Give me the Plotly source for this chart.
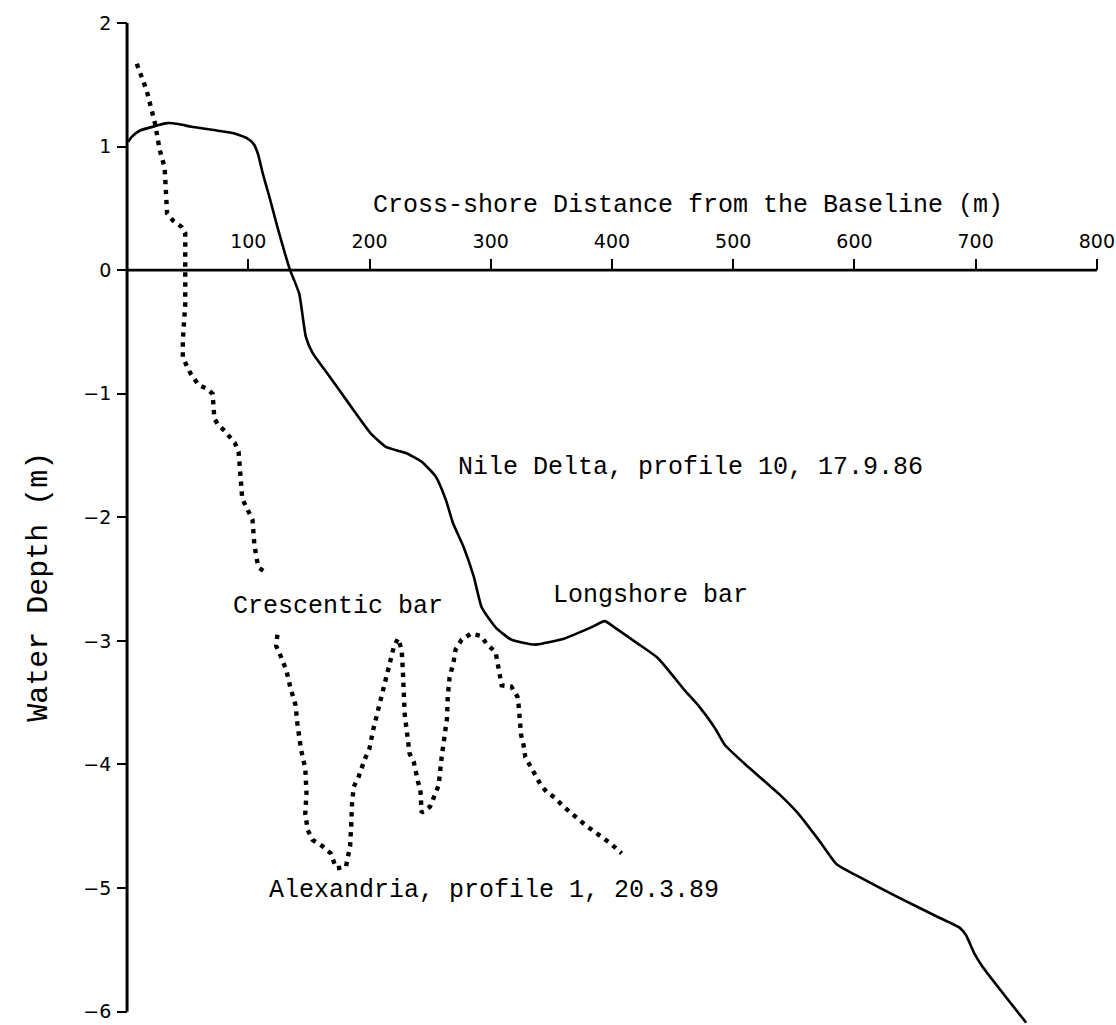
import plotly.graph_objects as go

# Nile Delta, profile 10 (17.9.86) - cross-shore distance (m) and elevation (m)
nile_x = [1, 4, 10.7, 24.6, 33, 43.5, 53, 74, 87, 98.5, 104.5, 108, 112, 117.5, 124, 131,
          134.5, 142, 147.5, 153, 167, 183, 201, 213.5, 230, 243, 254.6, 263, 269, 277.6,
          286, 292.6, 304, 317, 336.7, 361, 383, 394, 402, 421, 438, 460, 471, 484.6, 493,
          509, 539, 553, 572, 585.6, 602, 635, 668, 686.7, 692, 699, 706, 741.7]
nile_y = [1.04, 1.08, 1.13, 1.17, 1.19, 1.18, 1.16, 1.13, 1.11, 1.07, 1.02, 0.94, 0.78, 0.59,
          0.35, 0.11, 0.0, -0.19, -0.54, -0.67, -0.86, -1.08, -1.32, -1.43, -1.48, -1.55,
          -1.67, -1.86, -2.05, -2.24, -2.48, -2.73, -2.89, -2.99, -3.03, -2.98, -2.89, -2.84,
          -2.89, -3.02, -3.14, -3.40, -3.52, -3.70, -3.84, -3.99, -4.25, -4.39, -4.63, -4.81,
          -4.90, -5.07, -5.23, -5.32, -5.38, -5.53, -5.64, -6.09]

# Alexandria, profile 1 (20.3.89) - beach face segment
alex_upper_x = [8, 16, 23, 27, 31, 33, 33, 38, 45, 48, 48, 48, 46, 46, 49, 52, 59, 66, 70.6,
                71.5, 72, 75, 80.5, 89, 92, 93.6, 95, 103.5, 105, 107.6, 109, 115]
alex_upper_y = [1.67, 1.46, 1.19, 0.97, 0.83, 0.57, 0.46, 0.40, 0.35, 0.30, 0.0, -0.27, -0.57,
                -0.70, -0.77, -0.83, -0.93, -0.96, -1.0, -1.13, -1.2, -1.25, -1.30, -1.40,
                -1.47, -1.67, -1.85, -2.02, -2.22, -2.37, -2.41, -2.45]

# Alexandria, profile 1 - crescentic bar segment
alex_lower_x = [124, 123, 127, 131.5, 134.5, 139, 140.5, 143.5, 147, 148, 147, 149, 153, 161,
                168, 172.5, 180.5, 184, 185, 185.6, 187, 191, 196, 200, 203, 206.5, 210, 214,
                218, 220, 223.5, 226.5, 227.5, 228, 229, 231, 233, 236.5, 238, 240, 242, 243,
                250, 254, 257, 259.5, 262, 264, 264.5, 266, 269.5, 271, 276, 284, 292, 297,
                304, 305.5, 308, 309, 317, 322, 323, 324, 325, 327, 328.5, 332.5, 337, 341.5,
                346, 353, 360, 365.5, 372, 378, 386, 392, 399, 408]
alex_lower_y = [-2.95, -3.04, -3.13, -3.24, -3.37, -3.52, -3.67, -3.88, -4.03, -4.23, -4.40,
                -4.53, -4.61, -4.66, -4.72, -4.84, -4.83, -4.66, -4.47, -4.31, -4.18, -4.10,
                -3.96, -3.87, -3.72, -3.58, -3.43, -3.28, -3.14, -3.05, -2.98, -3.07, -3.24,
                -3.41, -3.59, -3.75, -3.91, -3.98, -4.06, -4.14, -4.21, -4.39, -4.34, -4.25,
                -4.17, -3.94, -3.78, -3.62, -3.45, -3.30, -3.16, -3.07, -2.99, -2.94, -2.96,
                -3.03, -3.09, -3.17, -3.28, -3.36, -3.37, -3.45, -3.52, -3.61, -3.76, -3.84,
                -3.94, -4.01, -4.09, -4.17, -4.22, -4.27, -4.34, -4.39, -4.44, -4.49, -4.55,
                -4.59, -4.64, -4.72]

x_ticks = [100, 200, 300, 400, 500, 600, 700, 800]
y_ticks = [2, 1, 0, -1, -2, -3, -4, -5, -6]

X_RANGE = [-5, 810]
Y_RANGE = [-6.1, 2.0]

MONO = "Liberation Mono, Courier New, monospace"
TICKFONT = dict(family="DejaVu Sans, Arial, sans-serif", size=19, color="black")

fig = go.Figure()

fig.add_trace(go.Scatter(x=nile_x, y=nile_y, mode="lines",
                         line=dict(color="black", width=2.6, shape="spline", smoothing=0.5),
                         showlegend=False, hoverinfo="skip"))
for xs, ys in [(alex_upper_x, alex_upper_y), (alex_lower_x, alex_lower_y)]:
    fig.add_trace(go.Scatter(x=xs, y=ys, mode="lines",
                             line=dict(color="black", width=4.4, dash="4.4px,5.6px"),
                             showlegend=False, hoverinfo="skip"))

# axis spines crossing at the origin
fig.add_shape(type="line", x0=0, x1=0, y0=-6, y1=2, xref="x", yref="y",
              line=dict(color="black", width=3))
fig.add_shape(type="line", x0=0, x1=800, y0=0, y1=0, xref="x", yref="y",
              line=dict(color="black", width=2.6))

x0_frac = (0 - X_RANGE[0]) / (X_RANGE[1] - X_RANGE[0])
y0_frac = (0 - Y_RANGE[0]) / (Y_RANGE[1] - Y_RANGE[0])

fig.update_layout(
    width=1116, height=1025,
    margin=dict(l=121, r=3, t=23, b=1),
    paper_bgcolor="white", plot_bgcolor="white",
    xaxis=dict(range=X_RANGE, anchor="free", position=y0_frac, side="top",
               showline=False, showgrid=False, zeroline=False,
               tickmode="array", tickvals=x_ticks, ticktext=[str(v) for v in x_ticks],
               ticks="outside", ticklen=11, tickwidth=1.6, tickcolor="black",
               tickfont=TICKFONT, ticklabelstandoff=4, ticklabeloverflow="allow"),
    yaxis=dict(range=Y_RANGE, anchor="free", position=x0_frac,
               showline=False, showgrid=False, zeroline=False,
               tickmode="array", tickvals=y_ticks,
               ticktext=[("\u2212" + str(-v)) if v < 0 else str(v) for v in y_ticks],
               ticks="outside", ticklen=10, tickwidth=2, tickcolor="black",
               tickfont=TICKFONT, ticklabelstandoff=2, ticklabeloverflow="allow"),
)

labels = [
    ("Cross-shore Distance from the Baseline (m)", 462.4, 0.52),
    ("Nile Delta, profile 10, 17.9.86", 465, -1.60),
    ("Crescentic bar", 174, -2.72),
    ("Longshore bar", 432, -2.63),
    ("Alexandria, profile 1, 20.3.89", 303, -5.02),
]
for text, x, y in labels:
    fig.add_annotation(text=text, x=x, y=y, xref="x", yref="y", showarrow=False,
                       xanchor="center", yanchor="middle",
                       font=dict(family=MONO, size=25, color="black"))

fig.add_annotation(text="Water Depth (m)", x=(38 - 121) / 992, y=-2.56,
                   xref="paper", yref="y", showarrow=False, textangle=-90,
                   xanchor="center", yanchor="middle",
                   font=dict(family=MONO, size=30, color="black"))

fig.write_html("out.html")
